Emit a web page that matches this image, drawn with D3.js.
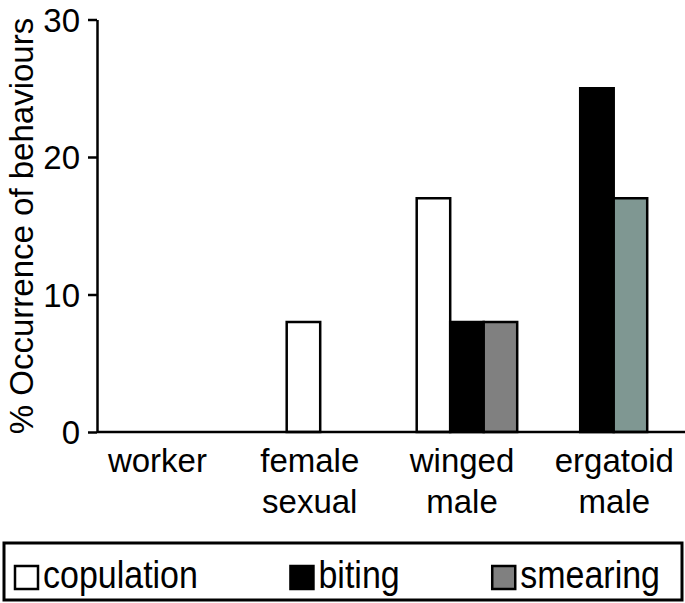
<!DOCTYPE html>
<html>
<head>
<meta charset="utf-8">
<script src="https://d3js.org/d3.v7.min.js"></script>
<style>
  body { margin: 0; background: #fff; }
  text { font-family: "Liberation Sans", Arial, sans-serif; fill: #000; }
</style>
</head>
<body>
<svg id="svg" width="685" height="603"></svg>
<script>
// data
var categories = ["worker", "female sexual", "winged male", "ergatoid male"];
var catLines = [["worker"], ["female", "sexual"], ["winged", "male"], ["ergatoid", "male"]];
var series = ["copulation", "biting", "smearing"];
var copulation = [0, 8, 17, 0];
var biting = [0, 0, 8, 25];
var smearing = [0, 0, 8, 17];
var yTicks = [0, 10, 20, 30];

var values = { copulation: copulation, biting: biting, smearing: smearing };
var fills = { copulation: "#ffffff", biting: "#000000", smearing: "#808080" };
var fillOverride = { "ergatoid male|smearing": "#7f9792" };

var svg = d3.select("#svg");

var y = d3.scaleLinear().domain([0, 30]).range([432, 19.5]);

// bar groups
var xGroup = d3.scaleBand().domain(categories).range([156.7, 647.2])
    .paddingInner(0.227).paddingOuter(0).align(0);
var xSub = d3.scaleBand().domain(series).range([0, xGroup.bandwidth()]);
// category labels
var xLabel = d3.scaleBand().domain(categories).range([81.3, 690.5]);

// bars
var bars = [];
categories.forEach(function (c, i) {
    series.forEach(function (s) {
        var v = values[s][i];
        if (v > 0) bars.push({ cat: c, ser: s, v: v });
    });
});
svg.append("g").selectAll("rect").data(bars).join("rect")
    .attr("x", function (d) { return xGroup(d.cat) + xSub(d.ser); })
    .attr("y", function (d) { return y(d.v); })
    .attr("width", xSub.bandwidth())
    .attr("height", function (d) { return y(0) - y(d.v); })
    .attr("fill", function (d) { return fillOverride[d.cat + "|" + d.ser] || fills[d.ser]; })
    .attr("stroke", "#000").attr("stroke-width", 2.5);

// y axis
var yAxis = svg.append("g").attr("transform", "translate(97,0)")
    .call(d3.axisLeft(y).tickValues(yTicks).tickSize(9).tickSizeOuter(0).tickPadding(8));
yAxis.select(".domain").attr("stroke-width", 2.5);
yAxis.selectAll(".tick line").attr("stroke-width", 2.5);
yAxis.selectAll(".tick text").style("font-size", "33px")
    .style("font-family", "'Liberation Sans', Arial, sans-serif").attr("dy", "0.36em");

// baseline
svg.append("line").attr("x1", 97).attr("x2", 685).attr("y1", y(0)).attr("y2", y(0))
    .attr("stroke", "#000").attr("stroke-width", 2.5);

// category labels
categories.forEach(function (c, i) {
    var t = svg.append("text").attr("text-anchor", "middle").style("font-size", "33px")
        .attr("x", xLabel(c) + xLabel.bandwidth() / 2).attr("y", 472);
    catLines[i].forEach(function (line, k) {
        t.append("tspan").attr("x", xLabel(c) + xLabel.bandwidth() / 2)
            .attr("y", 472 + k * 41).text(line);
    });
});

// y title
svg.append("text").attr("transform", "translate(33,226) rotate(-90)")
    .attr("text-anchor", "middle").style("font-size", "33px")
    .text("% Occurrence of behaviours");

// legend
svg.append("rect").attr("x", 4).attr("y", 543).attr("width", 678).attr("height", 57)
    .attr("fill", "none").attr("stroke", "#000").attr("stroke-width", 3);

var sq = 23, gap = 5, lx0 = 15, lx1 = 660;
var items = series.map(function (s) {
    var g = svg.append("g");
    g.append("rect").attr("width", sq).attr("height", sq).attr("y", 566)
        .attr("fill", fills[s]).attr("stroke", "#000").attr("stroke-width", 2.5);
    var t = g.append("text").attr("x", sq + gap).attr("y", 0)
        .attr("transform", "translate(0,588) scale(1,1.12)")
        .style("font-size", "34px").text(s);
    return { g: g, w: sq + gap + t.node().getComputedTextLength() };
});
var totalW = d3.sum(items, function (d) { return d.w; });
var spare = (lx1 - lx0 - totalW) / (items.length - 1);
var cx = lx0;
items.forEach(function (it) {
    it.g.attr("transform", "translate(" + cx + ",0)");
    cx += it.w + spare;
});
</script>
</body>
</html>
